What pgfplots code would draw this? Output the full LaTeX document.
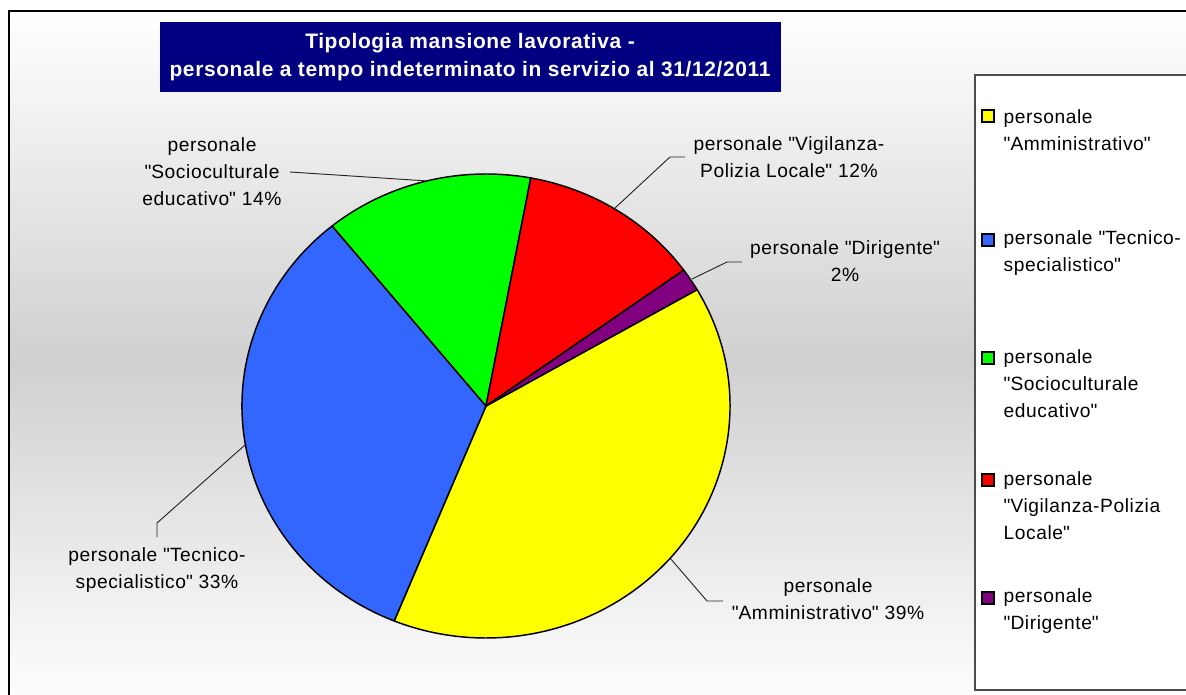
\documentclass[border=0pt]{standalone}
\usepackage{fontspec}
\setmainfont{Liberation Sans}
\newfontfamily\lblfam{Liberation Sans}[LetterSpace=3]
\newfontfamily\ttlfam{Liberation Sans}[LetterSpace=3]
\usepackage{pgfplots}
\pgfplotsset{compat=1.18}
\usepackage{pgfplotstable}

\definecolor{cAmm}{RGB}{255,255,0}
\definecolor{cTec}{RGB}{51,102,255}
\definecolor{cSoc}{RGB}{0,255,0}
\definecolor{cVig}{RGB}{255,0,0}
\definecolor{cDir}{RGB}{128,0,128}
\definecolor{navy}{RGB}{0,0,128}
\definecolor{bgmid}{RGB}{208,208,208}

% quote percentuali
\pgfplotstableread{
share color
39.5 cAmm
33.0 cTec
13.8 cSoc
12.1 cVig
1.6  cDir
}\piedata

\newcommand\lblfont{\lblfam\fontsize{14.4}{20.25}\selectfont}
\newcommand\q{\textquotedbl}

\begin{document}
\begin{tikzpicture}
\begin{axis}[
    name=ax,
    scale only axis,
    width=889.5pt, height=521.25pt,
    xmin=0, xmax=1186,
    ymin=0, ymax=695,
    y dir=reverse,
    hide axis,
    clip=false
]
% sfondo
\path[top color=white, bottom color=white, middle color=bgmid]
    (axis cs:9,11) rectangle (axis cs:1200,710);
\draw[black, line width=1.5pt] (axis cs:9,720) -- (axis cs:9,11) -- (axis cs:1200,11);

% titolo
\fill[navy] (axis cs:160,22) rectangle (axis cs:781,92);
\node[text=white, font=\ttlfam\fontsize{15.7}{20.5}\selectfont\bfseries, align=center]
    at (axis cs:470,57) {Tipologia mansione lavorativa -\\personale a tempo indeterminato in servizio al 31/12/2011};

% torta
\xdef\angA{30.1}
\pgfplotsforeachungrouped \i in {0,...,4}{%
  \pgfplotstablegetelem{\i}{share}\of\piedata \let\myval\pgfplotsretval
  \pgfplotstablegetelem{\i}{color}\of\piedata \let\mycol\pgfplotsretval
  \pgfmathsetmacro\angB{\angA-3.6*\myval}%
  \edef\temp{\noexpand\filldraw[fill=\mycol, draw=black, line width=1.1pt, line join=round]
     (axis cs:486,406) -- ++(\angA:183pt and 174pt)
     arc[start angle=\angA, end angle=\angB, x radius=183pt, y radius=174pt] -- cycle;}%
  \temp
  \xdef\angA{\angB}%
}

% linee guida
\draw[black!85, line width=0.7pt] (axis cs:290,172) -- (axis cs:428,181);
\draw[black!85, line width=0.7pt] (axis cs:685,157) -- (axis cs:670,157) -- (axis cs:615,208);
\draw[black!85, line width=0.7pt] (axis cs:742,262) -- (axis cs:727,262) -- (axis cs:692,279);
\draw[black!85, line width=0.7pt] (axis cs:157,537) -- (axis cs:157,523) -- (axis cs:245,445);
\draw[black!85, line width=0.7pt] (axis cs:723,601) -- (axis cs:707,601) -- (axis cs:670,558);

% etichette
\node[font=\lblfont, align=center] at (axis cs:212,172) {personale\\\q Socioculturale\\educativo\q{} 14\%};
\node[font=\lblfont, align=center] at (axis cs:789,157) {personale \q Vigilanza-\\Polizia Locale\q{} 12\%};
\node[font=\lblfont, align=center] at (axis cs:845,261) {personale \q Dirigente\q\\2\%};
\node[font=\lblfont, align=center] at (axis cs:157,570) {personale \q Tecnico-\\specialistico\q{} 33\%};
\node[font=\lblfont, align=center] at (axis cs:828,599) {personale\\\q Amministrativo\q{} 39\%};

% legenda
\filldraw[fill=white, draw=black!70, line width=0.8pt] (axis cs:975,75) rectangle (axis cs:1200,690);
\filldraw[fill=cAmm, draw=black, line width=0.8pt] (axis cs:982,110) rectangle (axis cs:994,122);
\filldraw[fill=cTec, draw=black, line width=0.8pt] (axis cs:982,234) rectangle (axis cs:994,246);
\filldraw[fill=cSoc, draw=black, line width=0.8pt] (axis cs:982,352) rectangle (axis cs:994,364);
\filldraw[fill=cVig, draw=black, line width=0.8pt] (axis cs:982,474) rectangle (axis cs:994,486);
\filldraw[fill=cDir, draw=black, line width=0.8pt] (axis cs:982,592) rectangle (axis cs:994,604);
\node[font=\lblfont, align=left, anchor=west] at (axis cs:999,130) {personale\\\q Amministrativo\q};
\node[font=\lblfont, align=left, anchor=west] at (axis cs:999,253) {personale \q Tecnico-\\specialistico\q};
\node[font=\lblfont, align=left, anchor=west] at (axis cs:999,384) {personale\\\q Socioculturale\\educativo\q};
\node[font=\lblfont, align=left, anchor=west] at (axis cs:999,506) {personale\\\q Vigilanza-Polizia\\Locale\q};
\node[font=\lblfont, align=left, anchor=west] at (axis cs:999,611) {personale\\\q Dirigente\q};
\end{axis}
\pgfresetboundingbox
\useasboundingbox (ax.south west) rectangle (ax.north east);
\end{tikzpicture}
\end{document}
